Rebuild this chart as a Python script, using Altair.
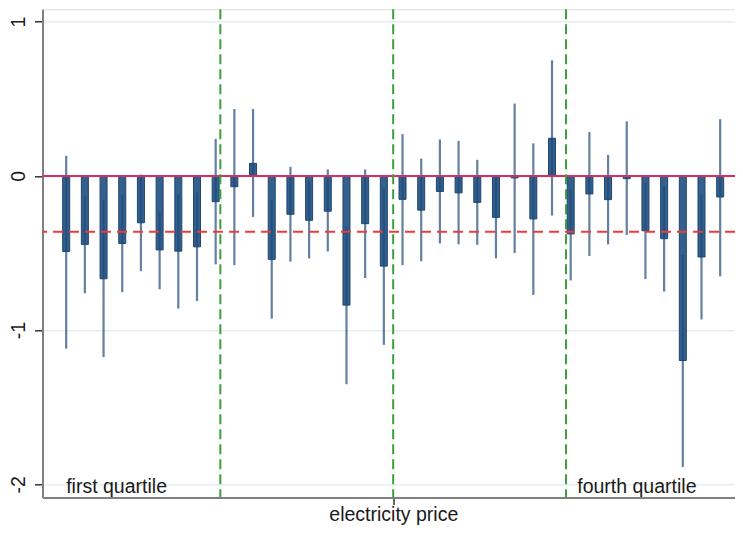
import altair as alt
import pandas as pd

# ---- data ----
idx = list(range(1, 37))
est = [-0.49, -0.444, -0.667, -0.438, -0.304, -0.48, -0.488, -0.46, -0.167,
       -0.07, 0.081, -0.541, -0.249, -0.288, -0.229, -0.838, -0.31, -0.585,
       -0.152, -0.222, -0.101, -0.11, -0.172, -0.269, -0.013, -0.279, 0.244,
       -0.376, -0.117, -0.154, -0.018, -0.356, -0.407, -1.197, -0.526, -0.137]
hi = [0.13, -0.134, -0.156, -0.123, 0.009, -0.233, -0.119, -0.108, 0.24,
      0.434, 0.434, -0.156, 0.059, -0.035, 0.042, -0.328, 0.042, -0.079,
      0.271, 0.112, 0.236, 0.227, 0.104, 0.0, 0.469, 0.211, 0.75,
      -0.086, 0.284, 0.136, 0.354, -0.046, -0.064, -0.513, -0.123, 0.368]
lo = [-1.12, -0.761, -1.175, -0.754, -0.618, -0.735, -0.86, -0.812, -0.574,
      -0.579, -0.266, -0.926, -0.556, -0.535, -0.49, -1.351, -0.662, -1.096,
      -0.579, -0.554, -0.438, -0.444, -0.447, -0.535, -0.5, -0.772, -0.257,
      -0.678, -0.519, -0.444, -0.383, -0.669, -0.75, -1.888, -0.931, -0.651]
mean_effect = -0.362
quartile_lines = [9.25, 18.5, 27.75]
labels = ["first quartile", "fourth quartile"]
label_x = [1.0, 28.35]
label_y = [-2.054, -2.054]
y_ticks = [-2, -1, 0, 1]

FONT = "Liberation Sans"
W, H = 692.5, 488.2
X_MAX = 37 * W / 701.5
Y_DOM = [-2.0856, 1.0804]

df = pd.DataFrame({"x": idx, "est": est, "lo": lo, "hi": hi, "base": [0.0] * 36})
xs = alt.Scale(domain=[0, X_MAX], nice=False, zero=False)
ys = alt.Scale(domain=Y_DOM, nice=False, zero=False)

base = alt.Chart(df)

bars = base.mark_bar(size=7, fill="#33608c", stroke="#1e4670", strokeWidth=1).encode(
    x=alt.X("x:Q", scale=xs,
            axis=alt.Axis(values=[18.5], labels=False, grid=False, tickSize=7,
                          tickColor="#333", tickWidth=1.5, domainColor="#808080",
                          domainWidth=2, title="electricity price",
                          titleFont=FONT, titleFontSize=19.5, titleFontWeight="normal",
                          titleColor="#1a1a1a", titleBaseline="alphabetic",
                          titleY=23, titleX=350.8)),
    y=alt.Y("est:Q", scale=ys,
            axis=alt.Axis(values=y_ticks, labelExpr="'' + datum.value",
                          labelAngle=270, labelAlign="center",
                          labelBaseline="alphabetic", labelPadding=10.5, tickSize=8,
                          tickColor="#333", tickWidth=1.5, domainColor="#808080",
                          domainWidth=2, labelFont=FONT, labelFontSize=19.5,
                          labelColor="#1a1a1a", grid=True, gridColor="#e6eef0",
                          gridWidth=1.5, title=None)),
    y2="base:Q",
)

err = base.mark_rule(color="#1f4a78", opacity=0.7, strokeWidth=2.2).encode(
    x=alt.X("x:Q", scale=xs), y=alt.Y("lo:Q", scale=ys), y2="hi:Q"
)

zero = alt.Chart(pd.DataFrame({"y": [0.0]})).mark_rule(
    color="#d7305f", strokeWidth=2).encode(y=alt.Y("y:Q", scale=ys))

meanline = alt.Chart(pd.DataFrame({"y": [mean_effect]})).mark_rule(
    color="#f03a3a", strokeWidth=2, strokeDash=[10, 6]).encode(y=alt.Y("y:Q", scale=ys))

green = alt.Chart(pd.DataFrame({"x": quartile_lines})).mark_rule(
    color="#3aa03a", strokeWidth=2, strokeDash=[10, 5]).encode(x=alt.X("x:Q", scale=xs))

txt = alt.Chart(pd.DataFrame({"t": labels, "x": label_x, "y": label_y})).mark_text(
    align="left", baseline="alphabetic", font=FONT, fontSize=19.5, color="#1a1a1a"
).encode(x=alt.X("x:Q", scale=xs), y=alt.Y("y:Q", scale=ys), text="t:N")

chart = alt.layer(bars, err, zero, meanline, green, txt).properties(
    width=W, height=H,
    autosize=alt.AutoSizeParams(type="none"),
    padding={"left": 34.5, "top": 1.3, "right": 0, "bottom": 27.5},
).configure_view(stroke=None).configure(background="white")

chart.save("out.html", embed_options={"renderer": "svg", "actions": False})
